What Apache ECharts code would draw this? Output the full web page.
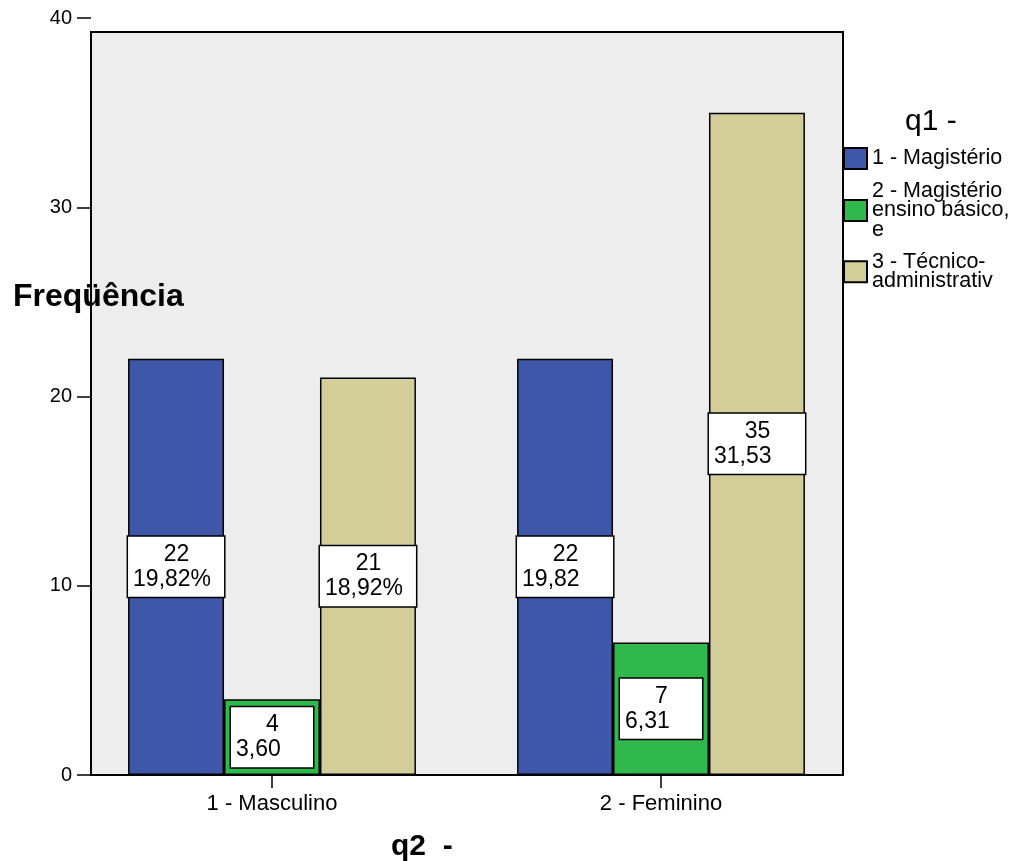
<!DOCTYPE html>
<html>
<head>
<meta charset="utf-8">
<script src="https://cdn.jsdelivr.net/npm/echarts@6/dist/echarts.min.js"></script>
<style>html,body{margin:0;padding:0;background:#fff;}#chart{width:1012px;height:861px;}</style>
</head>
<body>
<div id="chart"></div>
<script>
// ---- data ----
const categories = ['1 - Masculino', '2 - Feminino'];
const seriesNames = ['1 - Magistério', '2 - Magistério\nensino básico,\ne', '3 - Técnico-\nadministrativ'];
const magisterio = [22, 22];
const ensinoBasico = [4, 7];
const tecnico = [21, 35];
const magisterioPct = ['19,82%', '19,82'];
const ensinoBasicoPct = ['3,60', '6,31'];
const tecnicoPct = ['18,92%', '31,53'];
const yTicks = [0, 10, 20, 30, 40];

const colors = ['#3f57a9', '#2fb84b', '#d3ce99'];
const font = 'Liberation Sans, Arial, sans-serif';

function makeLabel(pcts, w) {
  return {
    show: true,
    position: 'inside',
    backgroundColor: '#ffffff',
    borderColor: '#000000',
    borderWidth: 1.5,
    padding: [5, 4, 5, 5],
    width: w,
    fontFamily: font,
    formatter: function (p) {
      return '{a|' + p.value + '}\n{b|' + pcts[p.dataIndex] + '}';
    },
    rich: {
      a: { align: 'center', fontSize: 23, lineHeight: 25, color: '#000', fontFamily: font },
      b: { align: 'left', fontSize: 23, lineHeight: 25, color: '#000', fontFamily: font }
    }
  };
}

const chart = echarts.init(document.getElementById('chart'), null, { renderer: 'canvas' });

chart.setOption({
  animation: false,
  backgroundColor: '#ffffff',
  textStyle: { fontFamily: font },
  title: [
    { text: 'Freqüência', left: 8, top: 276, textStyle: { fontSize: 32, fontWeight: 'bold', color: '#000', fontFamily: font } },
    { text: 'q1 -', left: 900, top: 102, textStyle: { fontSize: 30, fontWeight: 'normal', color: '#000', fontFamily: font } },
    { text: 'q2  -', left: 386, top: 827, textStyle: { fontSize: 30, fontWeight: 'bold', color: '#000', fontFamily: font } }
  ],
  graphic: [
    {
      type: 'rect', z: -10, silent: true,
      shape: { x: 91, y: 32, width: 752, height: 743 },
      style: { fill: '#ededed', stroke: '#000000', lineWidth: 2 }
    }
  ],
  legend: {
    orient: 'vertical',
    left: 843, top: 147,
    padding: 0,
    itemWidth: 23, itemHeight: 21, itemGap: 10,
    icon: 'rect',
    data: seriesNames,
    textStyle: { fontSize: 21.5, lineHeight: 19.5, color: '#000', fontFamily: font }
  },
  grid: { left: 77.5, right: 156.5, top: 18, bottom: 86, containLabel: false },
  xAxis: {
    type: 'category',
    data: categories,
    axisLine: { show: false },
    axisTick: { show: true, alignWithLabel: true, length: 13, lineStyle: { color: '#000', width: 1.5 } },
    axisLabel: { fontSize: 22, color: '#000', margin: 18, fontFamily: font },
    splitLine: { show: false }
  },
  yAxis: {
    type: 'value',
    min: yTicks[0], max: yTicks[yTicks.length - 1], interval: 10,
    offset: -13.5,
    axisLine: { show: false },
    axisTick: { show: true, length: 14, lineStyle: { color: '#000', width: 1.5 } },
    axisLabel: { fontSize: 20, color: '#000', margin: 19, fontFamily: font },
    splitLine: { show: false }
  },
  series: [
    {
      name: seriesNames[0], type: 'bar', data: magisterio,
      barGap: '0%', barCategoryGap: '26%',
      itemStyle: { color: colors[0], borderColor: '#000', borderWidth: 1.5 },
      label: makeLabel(magisterioPct, 87)
    },
    {
      name: seriesNames[1], type: 'bar', data: ensinoBasico,
      barGap: '0%', barCategoryGap: '26%',
      itemStyle: { color: colors[1], borderColor: '#000', borderWidth: 1.5 },
      label: makeLabel(ensinoBasicoPct, 73)
    },
    {
      name: seriesNames[2], type: 'bar', data: tecnico,
      barGap: '0%', barCategoryGap: '26%',
      itemStyle: { color: colors[2], borderColor: '#000', borderWidth: 1.5 },
      label: makeLabel(tecnicoPct, 87)
    }
  ]
});
</script>
</body>
</html>
